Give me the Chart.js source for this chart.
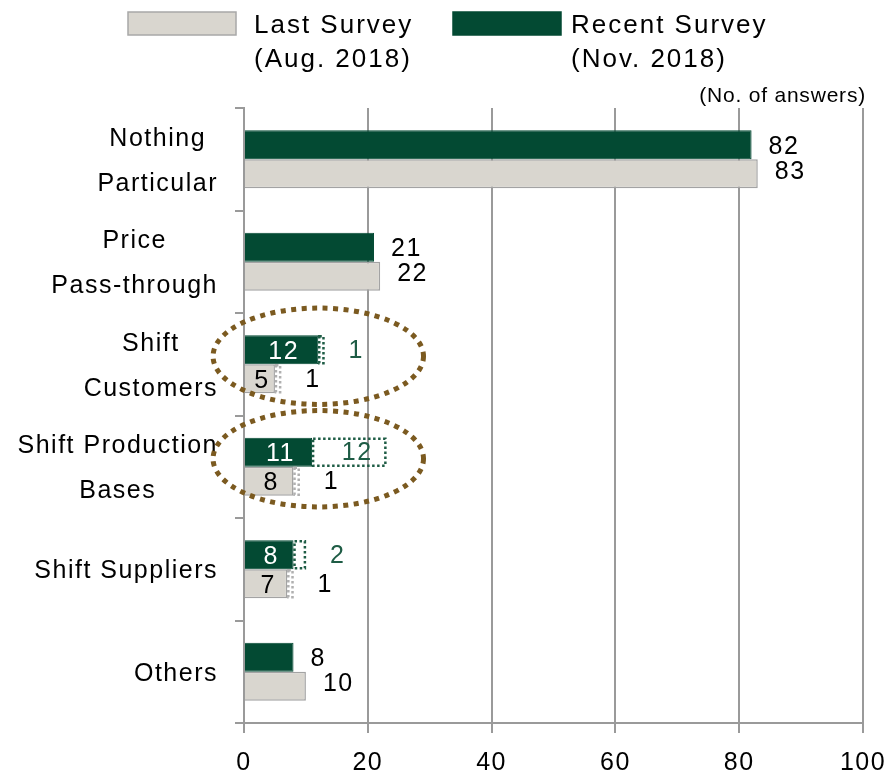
<!DOCTYPE html>
<html>
<head>
<meta charset="utf-8">
<script src="https://cdn.jsdelivr.net/npm/chart.js@4/dist/chart.umd.min.js"></script>
<style>
  html, body { margin: 0; padding: 0; background: #fff; }
</style>
</head>
<body>
<canvas id="bar-chart" width="884" height="773"></canvas>
<script>
// answers per category, the dotted part is what was added on top
const categories = [["Nothing", "Particular"], ["Price", "Pass-through"], ["Shift", "Customers"],
  ["Shift Production", "Bases"], ["Shift Suppliers"], ["Others"]]
const recent_values = [82, 21, 12, 11, 8, 8]
const recent_added = [null, null, 1, 12, 2, null]
const last_values = [83, 22, 5, 8, 7, 10]
const last_added = [null, null, 1, 1, 1, null]
const x_ticks = [0, 20, 40, 60, 80, 100]
const legend_labels = [["Last Survey", "(Aug. 2018)"], ["Recent Survey", "(Nov. 2018)"]]
const circled = [2, 3]

const GREEN = "#034a33"
const BEIGE = "#d9d6cf"
const FONT = "'Liberation Sans', Arial, sans-serif"

Chart.defaults.font.family = FONT
Chart.defaults.font.size = 25
Chart.defaults.color = "#000"

function setText(ctx, size, spacing) {
  ctx.font = size + "px " + FONT
  ctx.letterSpacing = spacing + "px"
}

const spacing = {
  id: "spacing",
  beforeDraw(chart) { chart.ctx.letterSpacing = "1.5px" }
}

const categoryLabels = {
  id: "categoryLabels",
  afterDraw(chart) {
    const ctx = chart.ctx, y = chart.scales.y
    ctx.save()
    setText(ctx, 25, 1.5)
    ctx.fillStyle = "#000"
    ctx.textAlign = "center"
    ctx.textBaseline = "middle"
    const right = y.left + y.width - 26
    categories.forEach((lines, i) => {
      const cy = y.getPixelForValue(i)
      const w = Math.max(...lines.map(l => ctx.measureText(l).width))
      lines.forEach((l, k) => {
        ctx.fillText(l, right - w / 2, cy + 2 + (k - (lines.length - 1) / 2) * 45)
      })
    })
    ctx.restore()
  }
}

const barLabels = {
  id: "barLabels",
  afterDatasetsDraw(chart) {
    const ctx = chart.ctx
    ctx.save()
    setText(ctx, 25, 1.5)
    ctx.textBaseline = "middle"
    chart.data.datasets.forEach((ds, di) => {
      const meta = chart.getDatasetMeta(di)
      meta.data.forEach((bar, i) => {
        const v = ds.data[i]
        if (!v) return
        const p = bar.getProps(["x", "y", "base", "height"], true)
        if (ds.added) {
          // dotted outline for the added answers
          ctx.save()
          ctx.strokeStyle = ds.outline
          ctx.lineWidth = 2.5
          ctx.setLineDash([2.5, 2.5])
          ctx.strokeRect(p.base + 1, p.y - p.height / 2 + 1, p.x - p.base - 2, p.height - 2)
          ctx.restore()
          ctx.fillStyle = ds.labelColor
          if (p.x - p.base > 40) {
            ctx.textAlign = "center"
            ctx.fillText(v, (p.x + p.base) / 2 + 8, p.y + 1)
          } else {
            ctx.textAlign = "left"
            ctx.fillText(v, p.x + 24, p.y + 1)
          }
          return
        }
        const extra = chart.data.datasets[di + 1].data[i]
        if (extra) {
          ctx.fillStyle = ds.insideColor
          ctx.textAlign = "center"
          ctx.fillText(v, (p.x + p.base) / 2 + 2, p.y + 2)
        } else {
          ctx.fillStyle = "#000"
          ctx.textAlign = "left"
          ctx.fillText(v, p.x + 17, p.y + ds.shift)
        }
      })
    })
    ctx.restore()
  }
}

const rings = {
  id: "rings",
  afterDraw(chart) {
    const ctx = chart.ctx, x = chart.scales.x, y = chart.scales.y
    const band = y.getPixelForValue(1) - y.getPixelForValue(0)
    ctx.save()
    ctx.strokeStyle = "#7b5a20"
    ctx.lineWidth = 5
    ctx.setLineDash([5, 5.5])
    circled.forEach(i => {
      ctx.beginPath()
      ctx.ellipse(x.getPixelForValue(12), y.getPixelForValue(i) - 8,
        x.getPixelForValue(17) - x.getPixelForValue(0), band * 0.47, 0, 0, Math.PI * 2)
      ctx.stroke()
    })
    ctx.restore()
  }
}

const legendBox = {
  id: "legendBox",
  afterDraw(chart) {
    const ctx = chart.ctx
    const items = [
      { fill: BEIGE, stroke: "#a8a8a8", box: 128, text: 254 },
      { fill: GREEN, stroke: GREEN, box: 453, text: 571 }
    ]
    ctx.save()
    items.forEach((it, k) => {
      ctx.fillStyle = it.fill
      ctx.fillRect(it.box, 12, 108, 23)
      ctx.strokeStyle = it.stroke
      ctx.lineWidth = 1.5
      ctx.strokeRect(it.box, 12, 108, 23)
      setText(ctx, 26, 2)
      ctx.fillStyle = "#000"
      ctx.textAlign = "left"
      ctx.textBaseline = "alphabetic"
      ctx.fillText(legend_labels[k][0], it.text, 33)
      ctx.fillText(legend_labels[k][1], it.text, 67)
    })
    setText(ctx, 21, 0.8)
    ctx.textAlign = "right"
    ctx.fillText("(No. of answers)", 866, 102)
    ctx.restore()
  }
}

new Chart(document.getElementById("bar-chart"), {
  type: "bar",
  data: {
    labels: categories,
    datasets: [
      { label: "Recent Survey (Nov. 2018)", data: recent_values, stack: "recent",
        backgroundColor: GREEN, borderColor: GREEN, borderWidth: 1,
        insideColor: "#fff", shift: 2 },
      { label: "Recent Survey added", data: recent_added, stack: "recent", added: true,
        backgroundColor: "rgba(0,0,0,0)", borderWidth: 0,
        outline: "#1e5c45", labelColor: "#1e5c45" },
      { label: "Last Survey (Aug. 2018)", data: last_values, stack: "last",
        backgroundColor: BEIGE, borderColor: "#a3a3a3", borderWidth: 1.5,
        insideColor: "#000", shift: -2 },
      { label: "Last Survey added", data: last_added, stack: "last", added: true,
        backgroundColor: "rgba(0,0,0,0)", borderWidth: 0,
        outline: "#b0b0b0", labelColor: "#000" }
    ]
  },
  options: {
    indexAxis: "y",
    responsive: false,
    animation: false,
    layout: { padding: { top: 108, right: 0, left: 0, bottom: 0 } },
    datasets: { bar: { categoryPercentage: 0.565, barPercentage: 1 } },
    plugins: { legend: { display: false }, tooltip: { enabled: false } },
    scales: {
      x: {
        stacked: true, min: 0, max: 100,
        afterBuildTicks: s => { s.ticks = x_ticks.map(v => ({ value: v })) },
        ticks: { padding: 15, font: { size: 25 } },
        grid: { color: "#9a9a9a", lineWidth: 2, tickLength: 10 },
        border: { color: "#9a9a9a", width: 2 },
        afterFit: s => { s.height = 50; s.paddingRight = 21; s.paddingLeft = 0 }
      },
      y: {
        stacked: true,
        ticks: { display: false },
        grid: { offset: true, drawOnChartArea: false, tickLength: 9, color: "#9a9a9a", lineWidth: 2 },
        border: { color: "#9a9a9a", width: 2 },
        afterFit: s => { s.width = 244 }
      }
    }
  },
  plugins: [spacing, barLabels, categoryLabels, rings, legendBox]
})
</script>
</body>
</html>
